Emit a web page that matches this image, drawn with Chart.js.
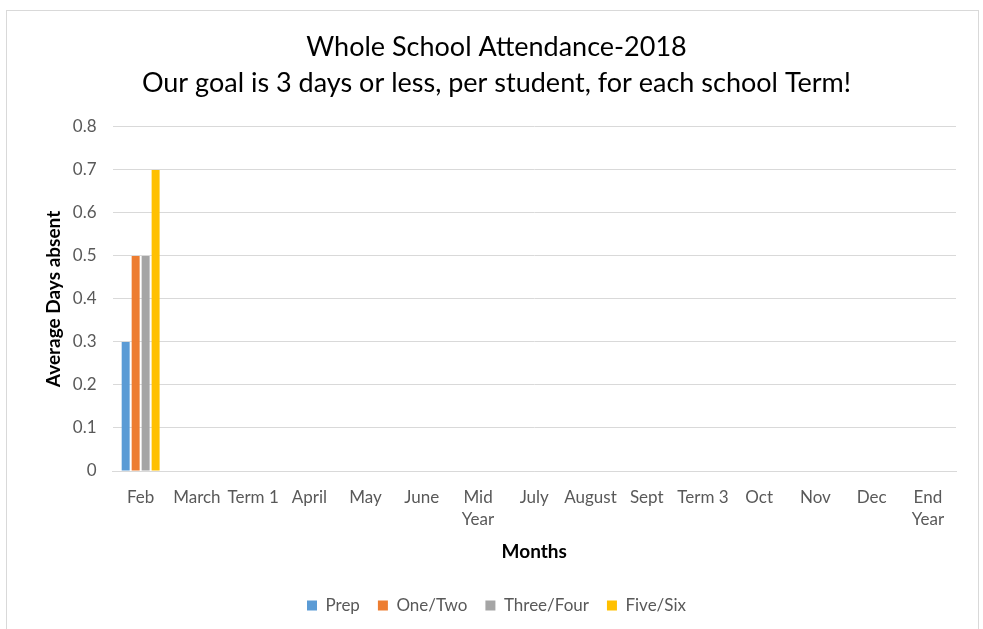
<!DOCTYPE html>
<html>
<head>
<meta charset="utf-8">
<script src="https://cdn.jsdelivr.net/npm/chart.js@4"></script>
<style>
  html, body { margin: 0; padding: 0; background: #fff; }
  #frame {
    position: absolute; left: 6px; top: 10px;
    width: 971px; height: 619px;
    border: 1px solid #d9d9d9; border-bottom: none;
  }
  canvas { display: block; }
</style>
</head>
<body>
<div id="frame"><canvas id="chart" width="971" height="619"></canvas></div>
<script>
"use strict";

const months = ['Feb', 'March', 'Term 1', 'April', 'May', 'June', ['Mid', 'Year'], 'July',
  'August', 'Sept', 'Term 3', 'Oct', 'Nov', 'Dec', ['End', 'Year']];
const prep =      [0.3, null, null, null, null, null, null, null, null, null, null, null, null, null, null];
const oneTwo =    [0.5, null, null, null, null, null, null, null, null, null, null, null, null, null, null];
const threeFour = [0.5, null, null, null, null, null, null, null, null, null, null, null, null, null, null];
const fiveSix =   [0.7, null, null, null, null, null, null, null, null, null, null, null, null, null, null];
const yTicks = [0, 0.1, 0.2, 0.3, 0.4, 0.5, 0.6, 0.7, 0.8];

const FONT = 'Lato, "Open Sans", sans-serif';
const grey = '#595959';

function series(label, data, color) {
  return {
    label: label,
    data: data,
    backgroundColor: color,
    borderWidth: 0,
    categoryPercentage: 0.71,
    barPercentage: 0.8
  };
}

new Chart(document.getElementById('chart'), {
  type: 'bar',
  data: {
    labels: months,
    datasets: [
      series('Prep', prep, '#5b9bd5'),
      series('One/Two', oneTwo, '#ed7d31'),
      series('Three/Four', threeFour, '#a5a5a5'),
      series('Five/Six', fiveSix, '#ffc000')
    ]
  },
  options: {
    responsive: false,
    animation: false,
    layout: { padding: { left: 30, right: 22, top: 0, bottom: 6 } },
    plugins: {
      title: {
        display: true,
        text: ['Whole School Attendance-2018', 'Our goal is 3 days or less, per student, for each school Term!'],
        color: '#000',
        font: { family: FONT, size: 27, weight: 'normal', lineHeight: 1.333 },
        padding: { top: 18, bottom: 26 }
      },
      legend: {
        position: 'bottom',
        labels: {
          color: grey,
          font: { family: FONT, size: 17 },
          boxWidth: 10,
          boxHeight: 10,
          padding: 18
        }
      },
      tooltip: { enabled: false }
    },
    scales: {
      x: {
        grid: { display: false, drawTicks: false },
        border: { color: '#d9d9d9' },
        ticks: {
          color: grey,
          font: { family: FONT, size: 17, lineHeight: 1.3 },
          autoSkip: false,
          maxRotation: 0,
          padding: 15
        },
        title: {
          display: true,
          text: 'Months',
          color: '#000',
          font: { family: FONT, size: 19, weight: 'bold' },
          padding: { top: -5, bottom: 16 }
        }
      },
      y: {
        min: 0,
        max: 0.8,
        afterBuildTicks(axis) { axis.ticks = yTicks.map(v => ({ value: v })); },
        grid: { color: '#d9d9d9', lineWidth: 1, drawTicks: false },
        border: { display: false },
        ticks: {
          color: grey,
          font: { family: FONT, size: 17 },
          padding: 16,
          callback: v => String(v)
        },
        title: {
          display: true,
          text: 'Average Days absent',
          color: '#000',
          font: { family: FONT, size: 19, weight: 'bold' },
          padding: { top: 5, bottom: -8 }
        }
      }
    }
  }
});
</script>
</body>
</html>
